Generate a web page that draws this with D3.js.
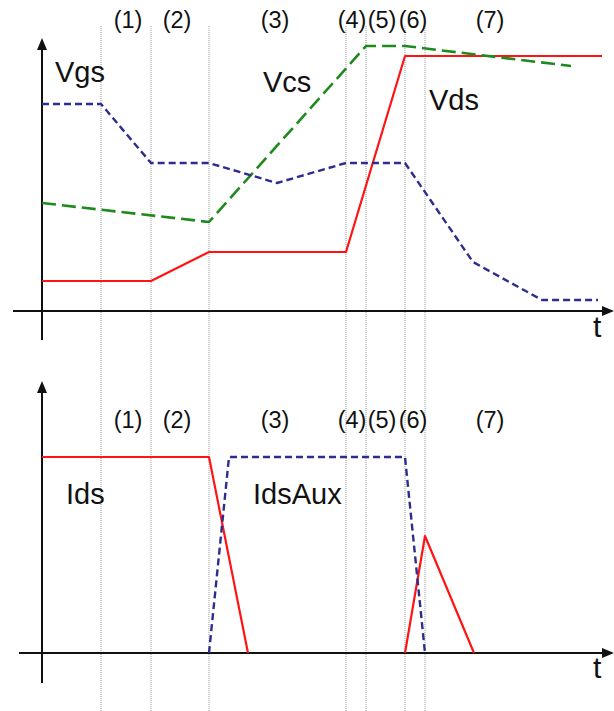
<!DOCTYPE html>
<html>
<head>
<meta charset="utf-8">
<script src="https://cdn.jsdelivr.net/npm/d3@7"></script>
<style>
  html, body { margin: 0; padding: 0; background: #fff; }
  svg { display: block; }
  text { font-family: "Liberation Sans", Arial, sans-serif; fill: #111; }
</style>
</head>
<body>
<svg id="chart" width="614" height="711"></svg>
<script>
// ---- data (time in arbitrary units, values in arbitrary units) ----
const phaseBounds = [59, 109, 167, 304, 324, 363, 383];
const phaseLabels = ["(1)", "(2)", "(3)", "(4)", "(5)", "(6)", "(7)"];
const phaseLabelT = [86, 135, 233, 310, 340, 371, 448];

// top panel: voltages
const vgsT = [0, 59, 109, 167, 235, 304, 363, 431, 500, 556];
const vgsV = [207, 207, 148, 148, 128, 148, 148, 49, 11, 11];
const vcsT = [0, 167, 324, 363, 529];
const vcsV = [108, 89, 265, 265, 245];
const vdsT = [0, 109, 167, 304, 363, 560];
const vdsV = [30, 30, 59, 59, 255, 255];

// bottom panel: currents (null = break in line)
const idsT = [0, 167, 206, null, 363, 383, 432];
const idsV = [196, 196, 0, null, 0, 117, 0];
const idsAuxT = [167, 187, 363, 383];
const idsAuxV = [0, 196, 196, 0];

const topLabels = [
  { text: "Vgs", t: 13, v: 229 },
  { text: "Vcs", t: 221, v: 219 },
  { text: "Vds", t: 387, v: 201 }
];
const bottomLabels = [
  { text: "Ids", t: 24, v: 149 },
  { text: "IdsAux", t: 211, v: 149 }
];

// ---- drawing ----
const svg = d3.select("#chart");
const x = d3.scaleLinear().domain([0, 560]).range([42, 602]);
const yTop = d3.scaleLinear().domain([0, 270]).range([311, 41]);
const yBot = d3.scaleLinear().domain([0, 200]).range([653, 453]);

const COLORS = { blue: "#2b2e8f", green: "#1e8a1e", red: "#ff1414" };

// dotted phase lines
svg.append("g").selectAll("line").data(phaseBounds).join("line")
  .attr("x1", d => x(d)).attr("x2", d => x(d))
  .attr("y1", 26).attr("y2", 711)
  .attr("stroke", "#9a9a9a").attr("stroke-width", 1)
  .attr("stroke-dasharray", "1,1");

function drawAxes(y, yTopTip, yBottomEnd, xLeft, tBaseline) {
  const g = svg.append("g");
  const x0 = x(0), y0 = y(0);
  g.append("line").attr("x1", x0).attr("x2", x0)
    .attr("y1", yBottomEnd).attr("y2", yTopTip + 8)
    .attr("stroke", "#111").attr("stroke-width", 2);
  g.append("path")
    .attr("d", `M${x0},${yTopTip} L${x0 - 5},${yTopTip + 12} L${x0 + 5},${yTopTip + 12} Z`)
    .attr("fill", "#111");
  g.append("line").attr("x1", xLeft).attr("x2", 606)
    .attr("y1", y0).attr("y2", y0)
    .attr("stroke", "#111").attr("stroke-width", 2);
  g.append("path")
    .attr("d", `M614,${y0} L602,${y0 - 5} L602,${y0 + 5} Z`)
    .attr("fill", "#111");
  g.append("text").attr("x", 593).attr("y", tBaseline)
    .attr("font-size", 30).text("t");
}

function drawPhaseLabels(baseline) {
  svg.append("g").selectAll("text").data(phaseLabels).join("text")
    .attr("x", (d, i) => x(phaseLabelT[i]))
    .attr("y", baseline)
    .attr("text-anchor", "middle")
    .attr("font-size", 23.5)
    .text(d => d);
}

function series(T, V) {
  return T.map((t, i) => (t === null ? null : [t, V[i]]));
}

function drawLine(data, y, color, width, dash) {
  const line = d3.line().defined(d => d !== null)
    .x(d => x(d[0])).y(d => y(d[1]));
  svg.append("path").datum(data)
    .attr("d", line)
    .attr("fill", "none")
    .attr("stroke", color)
    .attr("stroke-width", width)
    .attr("stroke-linejoin", "round")
    .attr("stroke-dasharray", dash || null);
}

// top panel
drawAxes(yTop, 38, 340, 13, 337);
drawPhaseLabels(28);
drawLine(series(vdsT, vdsV), yTop, COLORS.red, 2.2);
drawLine(series(vcsT, vcsV), yTop, COLORS.green, 2.6, "14,6");
drawLine(series(vgsT, vgsV), yTop, COLORS.blue, 2.4, "7,4");
svg.append("g").selectAll("text").data(topLabels).join("text")
  .attr("x", d => x(d.t)).attr("y", d => yTop(d.v))
  .attr("font-size", 29).text(d => d.text);

// bottom panel
drawAxes(yBot, 381, 683, 19, 678);
drawPhaseLabels(428);
drawLine(series(idsT, idsV), yBot, COLORS.red, 2.2);
drawLine(series(idsAuxT, idsAuxV), yBot, COLORS.blue, 2.4, "7,4");
svg.append("g").selectAll("text").data(bottomLabels).join("text")
  .attr("x", d => x(d.t)).attr("y", d => yBot(d.v))
  .attr("font-size", 29).text(d => d.text);
</script>
</body>
</html>
